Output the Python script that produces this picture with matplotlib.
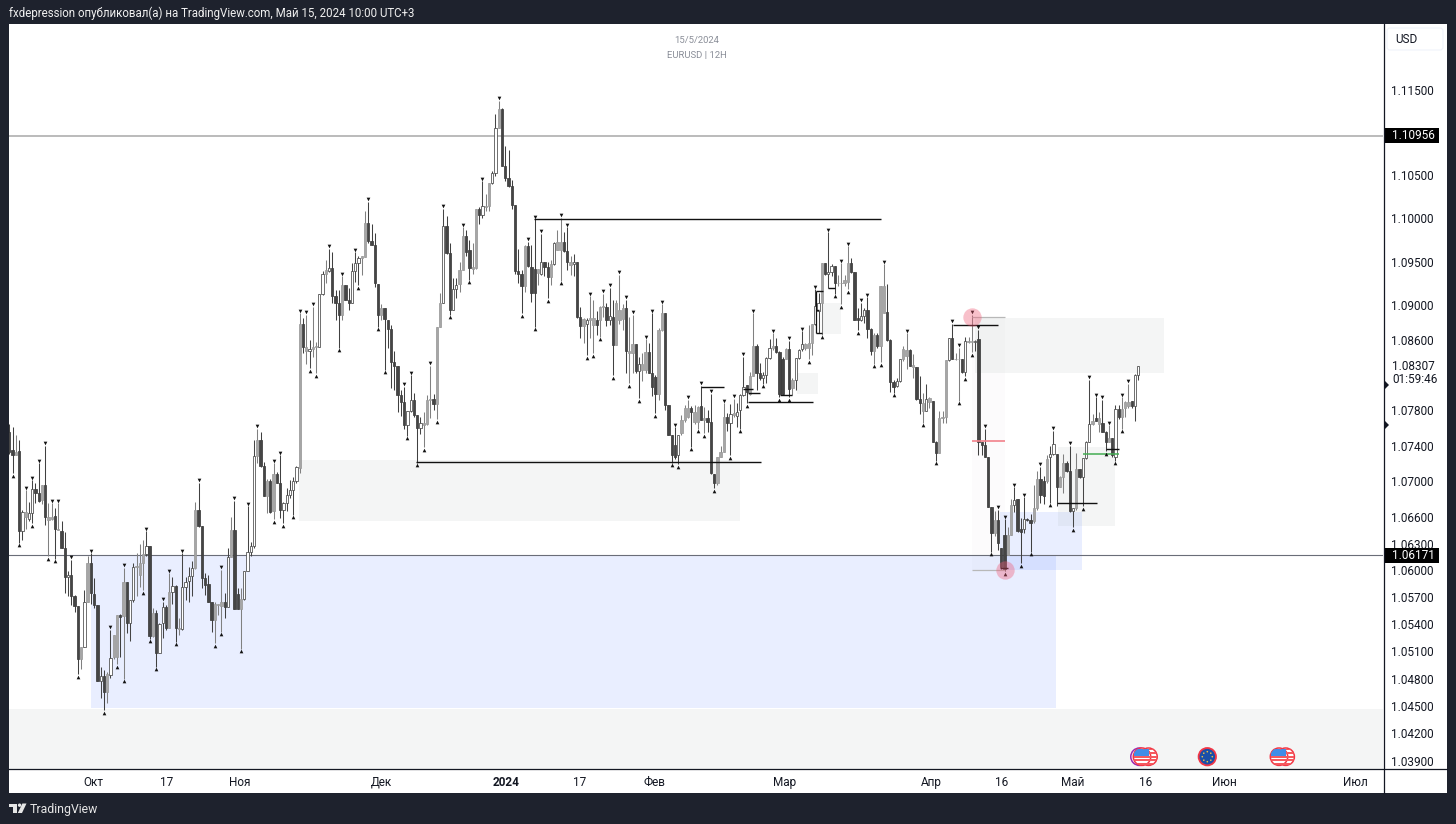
import matplotlib
matplotlib.use("Agg")
import matplotlib.pyplot as plt
from matplotlib.collections import LineCollection
from matplotlib.patches import Rectangle, Circle, Polygon, FancyBboxPatch
from matplotlib.transforms import offset_copy
from matplotlib.ticker import NullLocator, FixedLocator, FixedFormatter

plt.rcParams["font.family"] = ["Roboto", "DejaVu Sans"]

# ---------- EURUSD 12H candles ----------
candle_kinds = ("ddgdhghhdd" "gdggdgddhd" "ddghgdddhd" "ghggdgdhhg" "gghdgdhhdg" "hdghhhhgdd" "dddgggdhgd"
                "dghhhhgddg" "dgddhhhhhg" "dghgghhghd" "ddgddhhhgg" "ddddgddddd" "ddhhddhggg" "dgghddhhgg"
                "ddggdhgghh" "gdddddddgd" "ddghddghgg" "ddghddghgg" "dggdhdgggd" "ggdhggdddg" "gddddhgggd"
                "ggdgdddggg" "dhghhhdggd" "dhhhgdddgd" "ghhhggghhg" "dhhdggggdd" "dhhddgdggd" "ddhhggdgdd"
                "ghgddggghd" "ggdhgghddd" "ddgdddgghd" "dhddggddgh" "hdggddhgdh" "hhgdgddgdh" "dgggdhh")

body_tops = [
1.0756,1.0735,1.0733,1.0734,1.0665,1.0665,1.0664,1.0691,1.0691,1.0687,
1.0696,1.0696,1.0660,1.0660,1.0661,1.0646,1.0644,1.0625,1.0595,1.0595,
1.0572,1.0560,1.0515,1.0565,1.0608,1.0608,1.0574,1.0562,1.0483,1.0483,
1.0485,1.0503,1.0528,1.0550,1.0550,1.0587,1.0587,1.0567,1.0604,1.0605,
1.0608,1.0618,1.0627,1.0627,1.0553,1.0553,1.0540,1.0559,1.0559,1.0576,
1.0583,1.0583,1.0536,1.0581,1.0587,1.0594,1.0603,1.0668,1.0668,1.0650,
1.0591,1.0585,1.0565,1.0563,1.0563,1.0565,1.0565,1.0615,1.0645,1.0645,
1.0574,1.0568,1.0599,1.0621,1.0627,1.0728,1.0746,1.0746,1.0717,1.0700,
1.0700,1.0708,1.0708,1.0698,1.0676,1.0684,1.0690,1.0700,1.0716,1.0879,
1.0879,1.0852,1.0850,1.0852,1.0853,1.0913,1.0936,1.0940,1.0943,1.0943,
1.0910,1.0902,1.0923,1.0923,1.0906,1.0939,1.0949,1.0954,1.0956,1.0995,
1.0995,1.0974,1.0969,1.0924,1.0897,1.0897,1.0883,1.0873,1.0835,1.0831,
1.0798,1.0790,1.0779,1.0792,1.0792,1.0775,1.0766,1.0766,1.0792,1.0793,
1.0793,1.0875,1.0903,1.0991,1.0991,1.0960,1.0919,1.0923,1.0940,1.0980,
1.0980,1.0964,1.0944,1.1011,1.1011,1.1014,1.1014,1.1041,1.1053,1.1105,
1.1127,1.1127,1.1061,1.1047,1.1037,1.1015,1.0939,1.0936,1.0968,1.0968,
1.0944,1.0942,1.0941,1.0950,1.0950,1.0944,1.0947,1.0972,1.0973,1.0973,
1.0973,1.0962,1.0950,1.0950,1.0950,1.0887,1.0884,1.0883,1.0885,1.0885,
1.0883,1.0898,1.0899,1.0898,1.0888,1.0887,1.0903,1.0895,1.0897,1.0897,
1.0848,1.0855,1.0855,1.0833,1.0833,1.0846,1.0846,1.0822,1.0818,1.0872,
1.0891,1.0891,1.0786,1.0752,1.0741,1.0752,1.0769,1.0783,1.0783,1.0783,
1.0778,1.0784,1.0785,1.0771,1.0771,1.0767,1.0708,1.0727,1.0733,1.0772,
1.0772,1.0776,1.0777,1.0778,1.0798,1.0807,1.0809,1.0819,1.0853,1.0853,
1.0823,1.0820,1.0840,1.0851,1.0853,1.0853,1.0846,1.0838,1.0850,1.0850,
1.0815,1.0840,1.0849,1.0856,1.0856,1.0857,1.0878,1.0899,1.0902,1.0948,
1.0948,1.0938,1.0945,1.0945,1.0926,1.0926,1.0929,1.0948,1.0948,1.0938,
1.0885,1.0888,1.0894,1.0894,1.0873,1.0866,1.0866,1.0922,1.0922,1.0892,
1.0860,1.0812,1.0813,1.0838,1.0850,1.0849,1.0849,1.0832,1.0829,1.0793,
1.0788,1.0793,1.0794,1.0791,1.0744,1.0771,1.0773,1.0837,1.0862,1.0862,
1.0839,1.0839,1.0838,1.0859,1.0859,1.0859,1.0859,1.0861,1.0744,1.0741,
1.0727,1.0671,1.0656,1.0656,1.0625,1.0640,1.0640,1.0673,1.0679,1.0680,
1.0646,1.0657,1.0658,1.0656,1.0670,1.0702,1.0702,1.0700,1.0725,1.0731,
1.0742,1.0731,1.0705,1.0720,1.0720,1.0712,1.0670,1.0714,1.0714,1.0726,
1.0744,1.0764,1.0768,1.0771,1.0771,1.0766,1.0756,1.0749,1.0749,1.0782,
1.0782,1.0782,1.0790,1.0790,1.0791,1.0820,1.0831]

body_bottoms = [
1.0733,1.0729,1.0729,1.0644,1.0644,1.0660,1.0657,1.0664,1.0687,1.0678,
1.0679,1.0660,1.0656,1.0657,1.0646,1.0645,1.0625,1.0593,1.0593,1.0571,
1.0560,1.0502,1.0502,1.0515,1.0565,1.0575,1.0562,1.0477,1.0477,1.0465,
1.0465,1.0484,1.0504,1.0504,1.0548,1.0549,1.0541,1.0541,1.0567,1.0604,
1.0595,1.0608,1.0618,1.0527,1.0527,1.0508,1.0508,1.0541,1.0536,1.0536,
1.0576,1.0536,1.0535,1.0535,1.0581,1.0588,1.0594,1.0603,1.0650,1.0591,
1.0584,1.0565,1.0545,1.0545,1.0562,1.0560,1.0559,1.0559,1.0615,1.0557,
1.0557,1.0557,1.0568,1.0599,1.0621,1.0627,1.0728,1.0717,1.0683,1.0683,
1.0665,1.0666,1.0698,1.0668,1.0668,1.0676,1.0684,1.0690,1.0700,1.0715,
1.0852,1.0847,1.0847,1.0850,1.0852,1.0852,1.0913,1.0936,1.0939,1.0910,
1.0902,1.0889,1.0889,1.0906,1.0903,1.0903,1.0939,1.0949,1.0954,1.0955,
1.0974,1.0969,1.0925,1.0889,1.0889,1.0884,1.0873,1.0835,1.0831,1.0798,
1.0790,1.0763,1.0763,1.0779,1.0775,1.0760,1.0760,1.0763,1.0765,1.0792,
1.0787,1.0787,1.0875,1.0903,1.0960,1.0894,1.0894,1.0919,1.0924,1.0940,
1.0961,1.0943,1.0942,1.0943,1.1004,1.1004,1.1013,1.1014,1.1041,1.1053,
1.1105,1.1061,1.1047,1.1037,1.1015,1.0939,1.0936,1.0922,1.0922,1.0945,
1.0914,1.0914,1.0937,1.0936,1.0944,1.0932,1.0932,1.0947,1.0963,1.0963,
1.0962,1.0950,1.0946,1.0947,1.0887,1.0876,1.0876,1.0878,1.0883,1.0877,
1.0877,1.0883,1.0898,1.0883,1.0883,1.0854,1.0854,1.0883,1.0884,1.0847,
1.0845,1.0845,1.0825,1.0825,1.0826,1.0826,1.0822,1.0807,1.0799,1.0799,
1.0872,1.0786,1.0752,1.0729,1.0727,1.0729,1.0754,1.0769,1.0773,1.0778,
1.0767,1.0767,1.0769,1.0769,1.0767,1.0709,1.0698,1.0698,1.0727,1.0733,
1.0766,1.0766,1.0775,1.0774,1.0780,1.0798,1.0801,1.0799,1.0819,1.0822,
1.0817,1.0817,1.0820,1.0840,1.0851,1.0846,1.0799,1.0799,1.0838,1.0804,
1.0805,1.0815,1.0840,1.0850,1.0851,1.0851,1.0857,1.0878,1.0893,1.0903,
1.0936,1.0936,1.0938,1.0925,1.0925,1.0925,1.0925,1.0927,1.0938,1.0883,
1.0883,1.0883,1.0888,1.0873,1.0848,1.0848,1.0853,1.0853,1.0891,1.0860,
1.0812,1.0807,1.0808,1.0813,1.0838,1.0842,1.0830,1.0829,1.0793,1.0788,
1.0779,1.0779,1.0790,1.0744,1.0732,1.0732,1.0771,1.0773,1.0837,1.0838,
1.0838,1.0838,1.0824,1.0824,1.0858,1.0858,1.0858,1.0744,1.0741,1.0727,
1.0671,1.0642,1.0642,1.0631,1.0604,1.0602,1.0617,1.0640,1.0673,1.0644,
1.0643,1.0646,1.0656,1.0653,1.0655,1.0670,1.0684,1.0683,1.0700,1.0727,
1.0731,1.0694,1.0694,1.0705,1.0712,1.0667,1.0667,1.0670,1.0705,1.0705,
1.0726,1.0744,1.0764,1.0768,1.0764,1.0756,1.0744,1.0744,1.0729,1.0727,
1.0772,1.0772,1.0783,1.0785,1.0785,1.0785,1.0820]

highs = [
1.0764,1.0761,1.0752,1.0747,1.0668,1.0690,1.0677,1.0701,1.0698,1.0720,
1.0696,1.0740,1.0675,1.0675,1.0670,1.0675,1.0655,1.0643,1.0599,1.0612,
1.0573,1.0560,1.0515,1.0578,1.0616,1.0619,1.0591,1.0562,1.0493,1.0489,
1.0487,1.0534,1.0528,1.0550,1.0552,1.0603,1.0587,1.0567,1.0608,1.0619,
1.0629,1.0634,1.0644,1.0627,1.0558,1.0556,1.0541,1.0565,1.0562,1.0597,
1.0593,1.0584,1.0547,1.0619,1.0593,1.0604,1.0610,1.0677,1.0698,1.0650,
1.0597,1.0595,1.0565,1.0565,1.0563,1.0601,1.0575,1.0625,1.0660,1.0678,
1.0580,1.0580,1.0599,1.0672,1.0632,1.0746,1.0759,1.0756,1.0722,1.0703,
1.0703,1.0720,1.0710,1.0729,1.0677,1.0692,1.0701,1.0705,1.0717,1.0891,
1.0885,1.0889,1.0860,1.0898,1.0858,1.0913,1.0939,1.0952,1.0965,1.0961,
1.0917,1.0917,1.0933,1.0923,1.0920,1.0949,1.0961,1.0957,1.0956,1.1009,
1.1019,1.0994,1.0983,1.0924,1.0901,1.0897,1.0883,1.0877,1.0847,1.0831,
1.0803,1.0807,1.0779,1.0820,1.0800,1.0775,1.0773,1.0778,1.0797,1.0831,
1.0799,1.0875,1.0914,1.1011,1.1003,1.0971,1.0931,1.0931,1.0950,1.0990,
1.0986,1.0975,1.0971,1.1011,1.1013,1.1043,1.1028,1.1041,1.1055,1.1122,
1.1137,1.1129,1.1084,1.1080,1.1044,1.1015,1.0965,1.0940,1.0969,1.0973,
1.0969,1.0999,1.0942,1.0982,1.0950,1.0950,1.0952,1.0973,1.0986,1.1001,
1.0984,1.0990,1.0957,1.0959,1.0950,1.0898,1.0885,1.0885,1.0910,1.0906,
1.0893,1.0899,1.0913,1.0903,1.0920,1.0906,1.0906,1.0935,1.0901,1.0906,
1.0887,1.0889,1.0855,1.0841,1.0845,1.0861,1.0857,1.0891,1.0820,1.0874,
1.0901,1.0891,1.0786,1.0752,1.0761,1.0752,1.0775,1.0786,1.0792,1.0785,
1.0786,1.0785,1.0808,1.0784,1.0780,1.0799,1.0708,1.0727,1.0740,1.0788,
1.0777,1.0787,1.0793,1.0788,1.0799,1.0841,1.0809,1.0824,1.0891,1.0855,
1.0834,1.0824,1.0841,1.0861,1.0868,1.0862,1.0847,1.0841,1.0851,1.0859,
1.0817,1.0840,1.0850,1.0870,1.0857,1.0877,1.0878,1.0918,1.0914,1.0948,
1.0948,1.0984,1.0947,1.0945,1.0935,1.0948,1.0935,1.0968,1.0954,1.0938,
1.0897,1.0903,1.0897,1.0909,1.0874,1.0868,1.0868,1.0922,1.0947,1.0924,
1.0861,1.0815,1.0817,1.0838,1.0853,1.0868,1.0850,1.0844,1.0829,1.0819,
1.0800,1.0810,1.0795,1.0791,1.0745,1.0779,1.0779,1.0837,1.0862,1.0879,
1.0845,1.0851,1.0838,1.0863,1.0864,1.0889,1.0860,1.0872,1.0744,1.0759,
1.0727,1.0671,1.0666,1.0668,1.0625,1.0657,1.0649,1.0680,1.0693,1.0680,
1.0659,1.0682,1.0659,1.0663,1.0696,1.0712,1.0716,1.0706,1.0729,1.0740,
1.0757,1.0731,1.0706,1.0731,1.0723,1.0740,1.0670,1.0732,1.0714,1.0726,
1.0745,1.0815,1.0776,1.0795,1.0778,1.0792,1.0757,1.0763,1.0749,1.0786,
1.0786,1.0795,1.0791,1.0810,1.0791,1.0821,1.0831]

lows = [
1.0731,1.0709,1.0729,1.0631,1.0634,1.0646,1.0655,1.0653,1.0675,1.0677,
1.0674,1.0651,1.0616,1.0656,1.0613,1.0645,1.0625,1.0575,1.0571,1.0562,
1.0554,1.0485,1.0491,1.0515,1.0565,1.0563,1.0558,1.0477,1.0459,1.0445,
1.0453,1.0481,1.0502,1.0496,1.0504,1.0480,1.0530,1.0522,1.0565,1.0571,
1.0582,1.0578,1.0616,1.0524,1.0526,1.0493,1.0508,1.0525,1.0534,1.0536,
1.0563,1.0521,1.0528,1.0534,1.0567,1.0565,1.0571,1.0602,1.0649,1.0580,
1.0573,1.0565,1.0532,1.0519,1.0550,1.0532,1.0547,1.0559,1.0615,1.0557,
1.0557,1.0513,1.0567,1.0599,1.0616,1.0625,1.0720,1.0716,1.0683,1.0664,
1.0664,1.0657,1.0698,1.0659,1.0653,1.0666,1.0681,1.0662,1.0698,1.0709,
1.0845,1.0833,1.0828,1.0841,1.0822,1.0852,1.0912,1.0925,1.0938,1.0902,
1.0883,1.0851,1.0883,1.0906,1.0895,1.0902,1.0927,1.0923,1.0935,1.0955,
1.0971,1.0969,1.0921,1.0875,1.0883,1.0826,1.0851,1.0805,1.0803,1.0778,
1.0774,1.0759,1.0751,1.0778,1.0772,1.0721,1.0753,1.0738,1.0763,1.0771,
1.0780,1.0770,1.0875,1.0903,1.0959,1.0889,1.0894,1.0908,1.0915,1.0940,
1.0956,1.0929,1.0936,1.0941,1.0994,1.1001,1.1009,1.1008,1.1040,1.1049,
1.1105,1.1061,1.1043,1.1036,1.1011,1.0936,1.0925,1.0891,1.0915,1.0944,
1.0904,1.0875,1.0923,1.0935,1.0933,1.0908,1.0923,1.0946,1.0963,1.0928,
1.0961,1.0940,1.0935,1.0933,1.0885,1.0862,1.0857,1.0843,1.0862,1.0845,
1.0866,1.0864,1.0887,1.0876,1.0877,1.0820,1.0854,1.0878,1.0872,1.0822,
1.0811,1.0822,1.0822,1.0794,1.0813,1.0822,1.0822,1.0796,1.0777,1.0792,
1.0870,1.0780,1.0752,1.0721,1.0725,1.0719,1.0752,1.0767,1.0771,1.0739,
1.0765,1.0759,1.0769,1.0754,1.0756,1.0708,1.0692,1.0696,1.0727,1.0733,
1.0757,1.0729,1.0773,1.0761,1.0759,1.0796,1.0788,1.0798,1.0819,1.0803,
1.0815,1.0810,1.0811,1.0838,1.0849,1.0845,1.0795,1.0798,1.0838,1.0795,
1.0798,1.0803,1.0838,1.0847,1.0849,1.0838,1.0843,1.0877,1.0868,1.0866,
1.0935,1.0920,1.0933,1.0913,1.0922,1.0901,1.0922,1.0918,1.0937,1.0883,
1.0871,1.0882,1.0880,1.0862,1.0843,1.0833,1.0851,1.0835,1.0891,1.0859,
1.0801,1.0800,1.0807,1.0812,1.0836,1.0827,1.0830,1.0817,1.0792,1.0776,
1.0766,1.0779,1.0783,1.0744,1.0723,1.0732,1.0766,1.0766,1.0836,1.0838,
1.0837,1.0791,1.0823,1.0819,1.0857,1.0846,1.0848,1.0729,1.0730,1.0727,
1.0671,1.0621,1.0638,1.0623,1.0602,1.0599,1.0617,1.0640,1.0665,1.0643,
1.0608,1.0642,1.0655,1.0621,1.0653,1.0668,1.0676,1.0674,1.0698,1.0676,
1.0729,1.0672,1.0693,1.0687,1.0710,1.0665,1.0648,1.0668,1.0704,1.0672,
1.0725,1.0744,1.0763,1.0768,1.0756,1.0755,1.0734,1.0744,1.0727,1.0723,
1.0770,1.0759,1.0772,1.0783,1.0783,1.0768,1.0814]

peak_marks = [5,7,9,11,13,15,19,25,31,35,42,47,49,53,58,65,69,73,76,81,83,89,91,93,98,102,106,110,121,123,129,133,
              139,145,150,159,161,163,169,171,178,182,184,187,189,191,195,197,200,204,208,212,215,219,222,225,228,
              234,239,243,247,251,255,257,261,263,268,275,289,291,295,297,299,303,305,308,311,316,320,325,331,333,
              335,337,341,343]
trough_marks = [1,3,7,12,14,21,29,33,35,41,43,45,51,63,65,71,81,84,87,92,94,101,107,113,115,122,125,127,131,135,141,
                157,161,165,169,177,179,181,185,190,193,198,203,205,209,211,213,216,221,224,226,231,236,239,245,249,
                253,255,257,260,265,267,271,280,284,291,293,295,301,305,310,313,319,326,329,336,339,341]

# ---------- axis labels ----------
price_ticks = [1.115,1.105,1.100,1.095,1.090,1.086,1.078,1.074,1.070,1.066,1.063,1.060,1.057,1.054,1.051,1.048,1.045,1.042,1.039]
time_ticks = [25.9,48.3,70.7,113.9,152.2,174.9,197.6,237.7,282.5,304.2,326.0,348.4,372.3,412.4]
time_labels = ["Окт","17","Ноя","Дек","2024","17","Фев","Мар","Апр","16","Май","16","Июн","Июл"]

# ---------- drawings on the chart ----------
last_labels = [1.10956, 1.06171]
blue_zones = [(25.0,320.8,1.0448,1.06171),(303.6,328.9,1.0601,1.0665)]
grey_zones = [(-0.2,421.1,1.0380,1.0447),(88.8,223.9,1.0655,1.0724),(296.0,353.9,1.0822,1.0885),
              (321.3,338.9,1.0650,1.0739),(249.5,254.9,1.0867,1.0903),(241.4,247.8,1.0799,1.0822)]
pale_zones = [(295.0,305.2,1.0601,1.0886)]
black_levels = [(160.8,267.1,1.0999),(124.6,230.4,1.0722),(212.1,219.1,1.0806),(226.5,246.2,1.0790),
                (224.8,227.9,1.0804),(226.4,230.1,1.0800),(236.2,239.9,1.0797),(247.1,249.3,1.0916),
                (247.1,249.0,1.0868),(247.1,248.0,1.0894),(250.9,253.0,1.0920),(289.1,303.1,1.0877),
                (321.2,333.2,1.0675),(336.1,340.2,1.0736),(303.6,306.0,1.0603)]
red_levels = [(295.1,305.2,1.0745)]
green_levels = [(329.1,340.1,1.0731)]
soft_levels = [(295.0,305.2,1.0886),(295.0,305.2,1.0601)]
circle_x = [295.0, 305.1]
circle_y = [1.0886, 1.0601]

W, H = 1456, 824
fig = plt.figure(figsize=(W/100, H/100), dpi=100, facecolor="#1e222d")

def pixel_axes(z):
    a = fig.add_axes([0, 0, 1, 1], zorder=z)
    a.set_xlim(0, W); a.set_ylim(H, 0); a.axis("off")
    a.patch.set_alpha(0)
    return a

bg = pixel_axes(0)
bg.add_patch(Rectangle((9, 24), 1438, 769, fc="white", ec="none"))

ax = fig.add_axes([9/W, 1-769/H, 1374/W, 745/H], zorder=1)
ax.patch.set_alpha(0)
ax.set_yscale("log")
ax.set_xlim(-0.1, 421.0)
ax.set_ylim(1.03808, 1.12273)
for s in ax.spines.values():
    s.set_visible(False)
ax.yaxis.tick_right()
ax.yaxis.set_major_locator(FixedLocator(price_ticks))
ax.yaxis.set_major_formatter(FixedFormatter([f"{p:.5f}" for p in price_ticks]))
ax.yaxis.set_minor_locator(NullLocator())
ax.set_xticks(time_ticks)
ax.set_xticklabels(time_labels)
ax.tick_params(axis="both", length=0, labelsize=8.5, labelcolor="#131722")
ax.tick_params(axis="y", pad=6)
ax.tick_params(axis="x", pad=4.8)
for t, s in zip(ax.get_xticklabels(), time_labels):
    if s == "2024":
        t.set_fontweight("bold")

for x0, x1, lo, hi in blue_zones:
    ax.add_patch(Rectangle((x0, lo), x1-x0, hi-lo, fc="#2962ff", alpha=0.1, ec="none", zorder=1))
for x0, x1, lo, hi in grey_zones:
    ax.add_patch(Rectangle((x0, lo), x1-x0, hi-lo, fc="#6f7f78", alpha=0.07, ec="none", zorder=1))
for x0, x1, lo, hi in pale_zones:
    ax.add_patch(Rectangle((x0, lo), x1-x0, hi-lo, fc="#8a7f85", alpha=0.025, ec="none", zorder=1))

ax.axhline(last_labels[0], color="#a8a8a8", lw=1.1, zorder=2)
ax.axhline(last_labels[1], color="#6a6d78", lw=0.8, zorder=2)

for group, col, lw in [(soft_levels, "#b8b8b8", 0.9), (black_levels, "#111111", 1.0),
                       (red_levels, "#f2818b", 1.2), (green_levels, "#43ad52", 1.1)]:
    ax.hlines([g[2] for g in group], [g[0] for g in group], [g[1] for g in group], colors=col, lw=lw, zorder=5)
ax.vlines([247.1], [1.0868], [1.0916], colors="#111111", lw=0.9, zorder=5)

wick_col = {"d": "#404040", "h": "#454545", "g": "#808080"}
face_col = {"d": "#454545", "h": "#ffffff", "g": "#a6a6a6"}
edge_col = {"d": "#3c3c3c", "h": "#484848", "g": "#9a9a9a"}
idx = list(range(len(highs)))
ax.add_collection(LineCollection([[(i, lows[i]), (i, highs[i])] for i in idx],
                                 colors=[wick_col[candle_kinds[i]] for i in idx], linewidths=0.75, zorder=3))
ax.bar(idx, [body_tops[i]-body_bottoms[i] for i in idx], bottom=body_bottoms, width=0.7,
       color=[face_col[candle_kinds[i]] for i in idx], edgecolor=[edge_col[candle_kinds[i]] for i in idx],
       linewidth=0.55, zorder=4)

up = offset_copy(ax.transData, fig=fig, x=0, y=2.5, units="dots")
dn = offset_copy(ax.transData, fig=fig, x=0, y=-2.5, units="dots")
ax.scatter(peak_marks, [highs[i] for i in peak_marks], marker="v", s=7, c="#111111", lw=0, transform=up, zorder=6)
ax.scatter(trough_marks, [lows[i] for i in trough_marks], marker="^", s=7, c="#111111", lw=0, transform=dn, zorder=6)
ax.scatter(circle_x, circle_y, s=175, c="#ef5a75", alpha=0.38, lw=0, zorder=7)

# ---------- chrome: frame, labels, icons ----------
fg = pixel_axes(2)
fg.plot([1383.6, 1383.6], [24, 793], color="#131722", lw=0.9)
fg.plot([9, 1447], [768.6, 768.6], color="#131722", lw=0.9)

fg.add_patch(FancyBboxPatch((1387, 28), 56, 22, boxstyle="round,pad=0,rounding_size=3", fc="white", ec="#f0f3fa", lw=0.8))
fg.text(1395, 39, "USD", fontsize=8.5, color="#131722", va="center", ha="left")

for p, yc in zip(last_labels, [135.8, 555.6]):
    fg.add_patch(Rectangle((1384, yc-7.5), 55, 15, fc="#000000", ec="none"))
    fg.text(1392, yc, f"{p:.5f}", color="white", fontsize=8.5, va="center", ha="left")
fg.text(1392, 366, "1.08307", color="#131722", fontsize=8.5, va="center", ha="left")
fg.text(1392, 379, "01:59:46", color="#131722", fontsize=8.5, va="center", ha="left")
for yc in [385, 425]:
    fg.add_patch(Polygon([(1384, yc-5), (1389, yc), (1384, yc+5)], fc="#131722", ec="none"))

fg.text(696.5, 40, "15/5/2024", color="#8a8e98", fontsize=6.8, ha="center", va="center")
fg.text(696.5, 55, "EURUSD | 12H", color="#8a8e98", fontsize=6.8, ha="center", va="center")
fg.text(9, 13.5, "fxdepression опубликовал(а) на TradingView.com, Май 15, 2024 10:00 UTC+3",
        color="#f0f0f0", fontsize=8.3, ha="left", va="center")
fg.text(30, 809.5, "TradingView", color="#e6e6e6", fontsize=8.8, ha="left", va="center")

logo = "#e6e6e6"
fg.add_patch(Polygon([(9, 803.5), (17, 803.5), (17, 813), (13, 813), (13, 806.8), (9, 806.8)], fc=logo, ec="none"))
fg.add_patch(Circle((19.6, 805.2), 1.7, fc=logo, ec="none"))
fg.add_patch(Polygon([(22.4, 803.5), (26.5, 803.5), (22, 813), (17.8, 813)], fc=logo, ec="none"))

def us_coin(cx, cy):
    ring = Circle((cx, cy), 8.7, fc="white", ec="#f23645", lw=1.1, zorder=3)
    fg.add_patch(ring)
    for k in range(-2, 3):
        r = Rectangle((cx-8, cy+k*3.6-0.9), 16, 1.8, fc="#f55a5f", ec="none", zorder=3.1)
        fg.add_patch(r); r.set_clip_path(ring)
    c = Rectangle((cx-8, cy-8), 8.5, 7.5, fc="#3f8de8", ec="none", zorder=3.2)
    fg.add_patch(c); c.set_clip_path(ring)

fg.add_patch(Circle((1139.5, 756.7), 8.7, fc="white", ec="#9c27b0", lw=1.1, zorder=2.9))
us_coin(1148.5, 756.7); us_coin(1142, 756.7)
fg.add_patch(Circle((1207.3, 756.7), 8.7, fc="#1a4fa8", ec="#f23645", lw=1.3, zorder=3))
for dx, dy in [(0,-5),(3.5,-3.5),(5,0),(3.5,3.5),(0,5),(-3.5,3.5),(-5,0),(-3.5,-3.5)]:
    fg.add_patch(Circle((1207.3+dx, 756.7+dy), 0.8, fc="#f5c542", ec="none", zorder=3.1))
us_coin(1285.7, 756.7); us_coin(1279, 756.7)

assert len(candle_kinds) == len(body_tops) == len(body_bottoms) == len(highs) == len(lows)
fig.savefig("out.png", dpi=100, facecolor=fig.get_facecolor())
